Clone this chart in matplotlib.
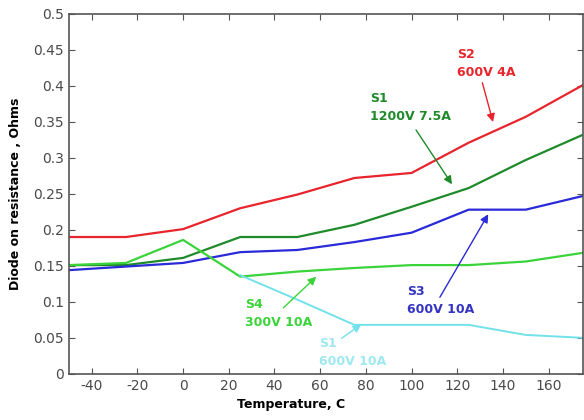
import matplotlib.pyplot as plt

plt.rcParams['axes.unicode_minus'] = False

temp = [-50, -25, 0, 25, 50, 75, 100, 125, 150, 175]
s2_600v_4a = [0.190, 0.190, 0.201, 0.230, 0.249, 0.272, 0.279, 0.321, 0.357, 0.401]
s1_1200v = [0.151, 0.151, 0.161, 0.190, 0.190, 0.207, 0.232, 0.258, 0.297, 0.332]
s3_600v_10a = [0.144, 0.149, 0.154, 0.169, 0.172, 0.183, 0.196, 0.228, 0.228, 0.247]
s4_300v = [0.151, 0.154, 0.186, 0.135, 0.142, 0.147, 0.151, 0.151, 0.156, 0.168]
temp_s1b = [25, 50, 75, 100, 125, 150, 175]
s1_600v_10a = [0.137, 0.103, 0.068, 0.068, 0.068, 0.054, 0.050]

xticks = [-40, -20, 0, 20, 40, 60, 80, 100, 120, 140, 160]
yticks = [0, 0.05, 0.1, 0.15, 0.2, 0.25, 0.3, 0.35, 0.4, 0.45, 0.5]
ytick_labels = ["0", "0.05", "0.1", "0.15", "0.2", "0.25", "0.3", "0.35", "0.4", "0.45", "0.5"]

red = '#e8242c'
dgreen = '#1f8a2a'
blue = '#2a2ad8'
lgreen = '#3ad43a'
cyan = '#72e2ea'

fig = plt.figure(figsize=(5.84, 4.2), dpi=100)
ax = fig.add_axes([0.118, 0.110, 0.880, 0.857])

ax.plot(temp, s2_600v_4a, color=red, lw=1.6)
ax.plot(temp, s1_1200v, color=dgreen, lw=1.6)
ax.plot(temp, s3_600v_10a, color=blue, lw=1.6)
ax.plot(temp, s4_300v, color=lgreen, lw=1.6)
ax.plot(temp_s1b, s1_600v_10a, color=cyan, lw=1.4)

ax.set_xlim(-50, 175)
ax.set_ylim(0, 0.5)
ax.set_xticks(xticks)
ax.set_yticks(yticks)
ax.set_yticklabels(ytick_labels)
ax.tick_params(direction='in', top=True, right=True, length=4, labelsize=10,
               labelcolor='#4a4a4a', color='#555555')
for s in ax.spines.values():
    s.set_color('#555555')
    s.set_linewidth(1.2)

ax.set_ylabel('Diode on resistance , Ohms', fontsize=9, fontweight='bold', labelpad=8)
fig.text(0.498, 0.028, 'Temperature, C', fontsize=9, fontweight='bold', ha='center')

# labels + arrows
ax.text(120, 0.414, 'S2\n600V 4A', color=red, fontsize=9, fontweight='bold', linespacing=1.5)
ax.annotate('', xy=(136, 0.346), xytext=(130.7, 0.408),
            arrowprops=dict(arrowstyle='-|>', color=red, lw=1, mutation_scale=12))

ax.text(82, 0.352, 'S1\n1200V 7.5A', color=dgreen, fontsize=9, fontweight='bold', linespacing=1.5)
ax.annotate('', xy=(118.4, 0.26), xytext=(101.3, 0.342),
            arrowprops=dict(arrowstyle='-|>', color=dgreen, lw=1, mutation_scale=12))

ax.text(98, 0.085, 'S3\n600V 10A', color='#3434c0', fontsize=9, fontweight='bold', linespacing=1.5)
ax.annotate('', xy=(134.2, 0.225), xytext=(111.8, 0.103),
            arrowprops=dict(arrowstyle='-|>', color=blue, lw=1, mutation_scale=12))

ax.text(27, 0.066, 'S4\n300V 10A', color=lgreen, fontsize=9, fontweight='bold', linespacing=1.5)
ax.annotate('', xy=(59.2, 0.1375), xytext=(43, 0.089),
            arrowprops=dict(arrowstyle='-|>', color=lgreen, lw=1, mutation_scale=12))

ax.text(59.5, 0.012, 'S1\n600V 10A', color='#9ee8f0', fontsize=9, fontweight='bold', linespacing=1.5)
ax.annotate('', xy=(79, 0.071), xytext=(68.4, 0.047),
            arrowprops=dict(arrowstyle='-|>', color=cyan, lw=1, mutation_scale=12))

fig.savefig('out.png', dpi=100)
